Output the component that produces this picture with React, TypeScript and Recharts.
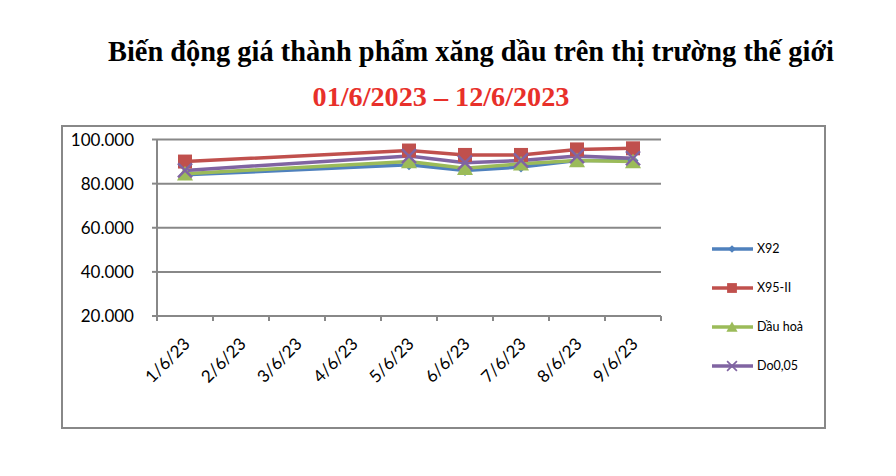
import React from "react";
import { LineChart, Line, XAxis, YAxis, CartesianGrid } from "recharts";

const categories = ["1/6/23", "2/6/23", "3/6/23", "4/6/23", "5/6/23", "6/6/23", "7/6/23", "8/6/23", "9/6/23"];
const x92 = [84, null, null, null, 88.5, 86, 87.5, 90.5, 90.5];
const x95 = [90, null, null, null, 95, 93, 93, 95.5, 96];
const dauHoa = [84.5, null, null, null, 90, 87, 89, 90.5, 90];
const do005 = [86, null, null, null, 92.5, 89.5, 90.5, 92.5, 91.5];
const yTicks = [20, 40, 60, 80, 100];

const seriesNames = ["X92", "X95-II", "Dầu hoả", "Do0,05"];
const seriesKeys = ["x92", "x95", "dauHoa", "do005"];
const seriesColors = ["#4F81BD", "#C0504D", "#9BBB59", "#8064A2"];
const seriesShapes = ["diamond", "square", "triangle", "cross"];

const data = categories.map((c, i) => ({
  date: c,
  x92: x92[i],
  x95: x95[i],
  dauHoa: dauHoa[i],
  do005: do005[i],
}));

const W = 896;
const H = 476;
const PLOT_LEFT = 157;
const PLOT_RIGHT = 661;
const PLOT_TOP = 139.5;
const PLOT_BOTTOM = 316;
const Y_AXIS_W = 90;
const X_AXIS_H = 60;
const band = (PLOT_RIGHT - PLOT_LEFT) / categories.length;
const AXIS_FONT = "Lato, 'DejaVu Sans', sans-serif";

function Marker({ shape, cx, cy, color, s = 1 }: any) {
  if (cx == null || cy == null) return null;
  if (shape === "diamond") {
    const r = 5.5 * s;
    return <polygon points={`${cx},${cy - r} ${cx + r},${cy} ${cx},${cy + r} ${cx - r},${cy}`} fill={color} />;
  }
  if (shape === "square") {
    const r = 7 * s;
    return <rect x={cx - r} y={cy - r} width={2 * r} height={2 * r} fill={color} />;
  }
  if (shape === "triangle") {
    const r = 8 * s;
    return <polygon points={`${cx},${cy - r} ${cx + r},${cy + r * 0.85} ${cx - r},${cy + r * 0.85}`} fill={color} />;
  }
  const r = 7 * s;
  return (
    <g stroke={color} strokeWidth={2.4 * s}>
      <line x1={cx - r} y1={cy - r} x2={cx + r} y2={cy + r} />
      <line x1={cx - r} y1={cy + r} x2={cx + r} y2={cy - r} />
    </g>
  );
}

const XTick = (props: any) => {
  const { x, y, payload, index } = props;
  const last = index === categories.length - 1;
  return (
    <g>
      <line x1={x - band / 2} y1={PLOT_BOTTOM} x2={x - band / 2} y2={PLOT_BOTTOM + 5} stroke="#888" strokeWidth={2} />
      {last && <line x1={x + band / 2} y1={PLOT_BOTTOM} x2={x + band / 2} y2={PLOT_BOTTOM + 5} stroke="#888" strokeWidth={2} />}
      <text
        x={x + 6}
        y={y + 21}
        textAnchor="end"
        transform={`rotate(-45, ${x + 6}, ${y + 21})`}
        fontSize={17}
        fontFamily={AXIS_FONT}
        fill="#000"
      >
        {payload.value}
      </text>
    </g>
  );
};

export default function App() {
  return (
    <div style={{ position: "absolute", left: 0, top: 0, width: W, height: H, background: "#fff", overflow: "hidden" }}>
      <div
        style={{
          position: "absolute",
          left: 71,
          top: 36,
          width: 800,
          textAlign: "center",
          fontFamily: "'Liberation Serif', 'Times New Roman', serif",
          fontWeight: "bold",
          fontSize: 28.4,
          whiteSpace: "nowrap",
          color: "#000",
        }}
      >
        Biến động giá thành phẩm xăng dầu trên thị trường thế giới
      </div>
      <div
        style={{
          position: "absolute",
          left: 241,
          top: 81,
          width: 400,
          textAlign: "center",
          fontFamily: "'Liberation Serif', 'Times New Roman', serif",
          fontWeight: "bold",
          fontSize: 28.2,
          whiteSpace: "nowrap",
          color: "#E8302A",
        }}
      >
        01/6/2023 – 12/6/2023
      </div>
      <div
        style={{
          position: "absolute",
          left: 61,
          top: 125,
          width: 765,
          height: 304,
          border: "2px solid #888",
          boxSizing: "border-box",
        }}
      />
      <div style={{ position: "absolute", left: 0, top: 0 }}>
        <LineChart
          width={W}
          height={H}
          data={data}
          margin={{
            top: PLOT_TOP,
            left: PLOT_LEFT - Y_AXIS_W,
            right: W - PLOT_RIGHT,
            bottom: H - PLOT_BOTTOM - X_AXIS_H,
          }}
        >
          <CartesianGrid vertical={false} stroke="#888" strokeWidth={2} />
          <XAxis
            dataKey="date"
            scale="band"
            interval={0}
            height={X_AXIS_H}
            tickLine={false}
            axisLine={{ stroke: "#888", strokeWidth: 2 }}
            tick={<XTick />}
          />
          <YAxis
            domain={[20, 100]}
            ticks={yTicks}
            width={Y_AXIS_W}
            tickFormatter={(v: number) => v.toFixed(3)}
            tickLine={{ stroke: "#888", strokeWidth: 2 }}
            tickSize={5}
            tickMargin={18}
            axisLine={{ stroke: "#888", strokeWidth: 2 }}
            tick={{ fontSize: 17, fill: "#000", fontFamily: AXIS_FONT }}
          />
          {seriesKeys.map((k, si) => (
            <Line
              key={k}
              dataKey={k}
              name={seriesNames[si]}
              stroke={seriesColors[si]}
              strokeWidth={3.5}
              connectNulls
              isAnimationActive={false}
              dot={(p: any) => (
                <Marker key={`${k}-${p.index}`} shape={seriesShapes[si]} cx={p.cx} cy={p.cy} color={seriesColors[si]} />
              )}
              activeDot={false}
            />
          ))}
        </LineChart>
      </div>
      <div style={{ position: "absolute", left: 712, top: 229 }}>
        {seriesNames.map((n, si) => (
          <div key={n} style={{ display: "flex", alignItems: "center", height: 39 }}>
            <svg width={45} height={20} style={{ display: "block" }}>
              <line x1={0} y1={10} x2={41} y2={10} stroke={seriesColors[si]} strokeWidth={3.5} />
              <Marker shape={seriesShapes[si]} cx={20} cy={10} color={seriesColors[si]} s={0.7} />
            </svg>
            <span style={{ fontFamily: AXIS_FONT, fontSize: 12.5, color: "#000" }}>{n}</span>
          </div>
        ))}
      </div>
    </div>
  );
}
